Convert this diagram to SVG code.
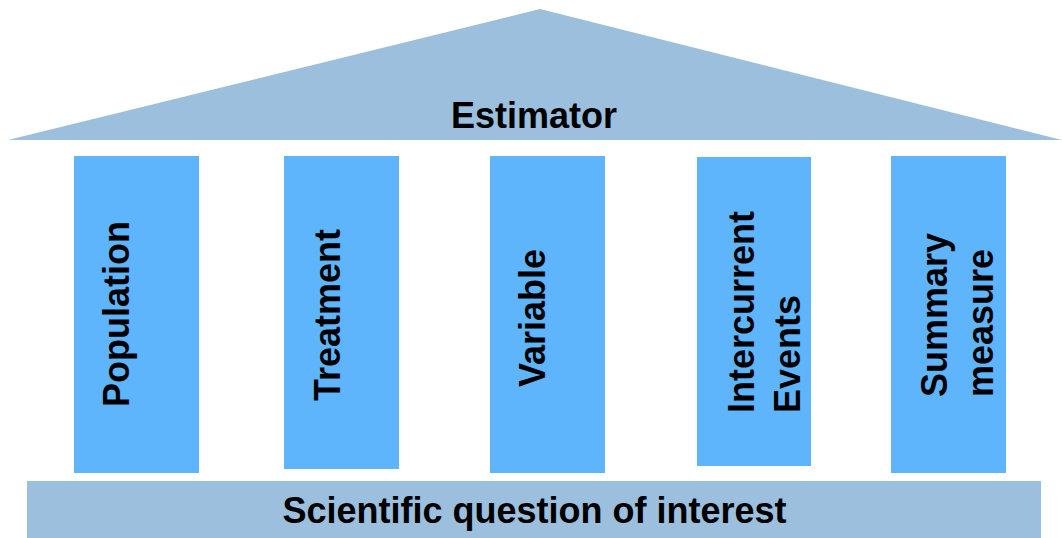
<svg xmlns="http://www.w3.org/2000/svg" width="1062" height="538" viewBox="0 0 1062 538">
  <style>
    .roof { fill: #9bbfdc; }
    .pillar { fill: #5eb5fc; }
    .base { fill: #9bbfdc; }
    .label { font-family: "Liberation Sans", Arial, sans-serif; font-weight: bold; font-size: 36px; fill: #000000; }
  </style>

  <!-- Roof: the estimator -->
  <g id="estimator">
    <polygon class="roof" points="540,9 1062,140 8,140"/>
    <text class="label" x="534" y="128" text-anchor="middle">Estimator</text>
  </g>

  <!-- Pillars: estimand attributes -->
  <g id="population">
    <rect class="pillar" x="74" y="156" width="125" height="317"/>
    <text class="label" transform="translate(129,407) rotate(-90)">Population</text>
  </g>
  <g id="treatment">
    <rect class="pillar" x="284" y="156" width="115" height="313"/>
    <text class="label" transform="translate(340,401) rotate(-90)">Treatment</text>
  </g>
  <g id="variable">
    <rect class="pillar" x="490" y="156" width="115" height="317"/>
    <text class="label" transform="translate(545,387) rotate(-90)">Variable</text>
  </g>
  <g id="intercurrent-events">
    <rect class="pillar" x="697" y="157" width="114" height="309"/>
    <text class="label" transform="translate(754,413) rotate(-90)">Intercurrent</text>
    <text class="label" transform="translate(800,413) rotate(-90)">Events</text>
  </g>
  <g id="summary-measure">
    <rect class="pillar" x="891" y="156" width="115" height="317"/>
    <text class="label" transform="translate(947,397) rotate(-90)">Summary</text>
    <text class="label" transform="translate(993,397) rotate(-90)">measure</text>
  </g>

  <!-- Foundation: the scientific question -->
  <g id="scientific-question">
    <rect class="base" x="27" y="481" width="1014" height="57"/>
    <text class="label" x="534.5" y="523" text-anchor="middle">Scientific question of interest</text>
  </g>

  <!-- No connectors in this layout -->
  <g id="connectors"/>
</svg>
